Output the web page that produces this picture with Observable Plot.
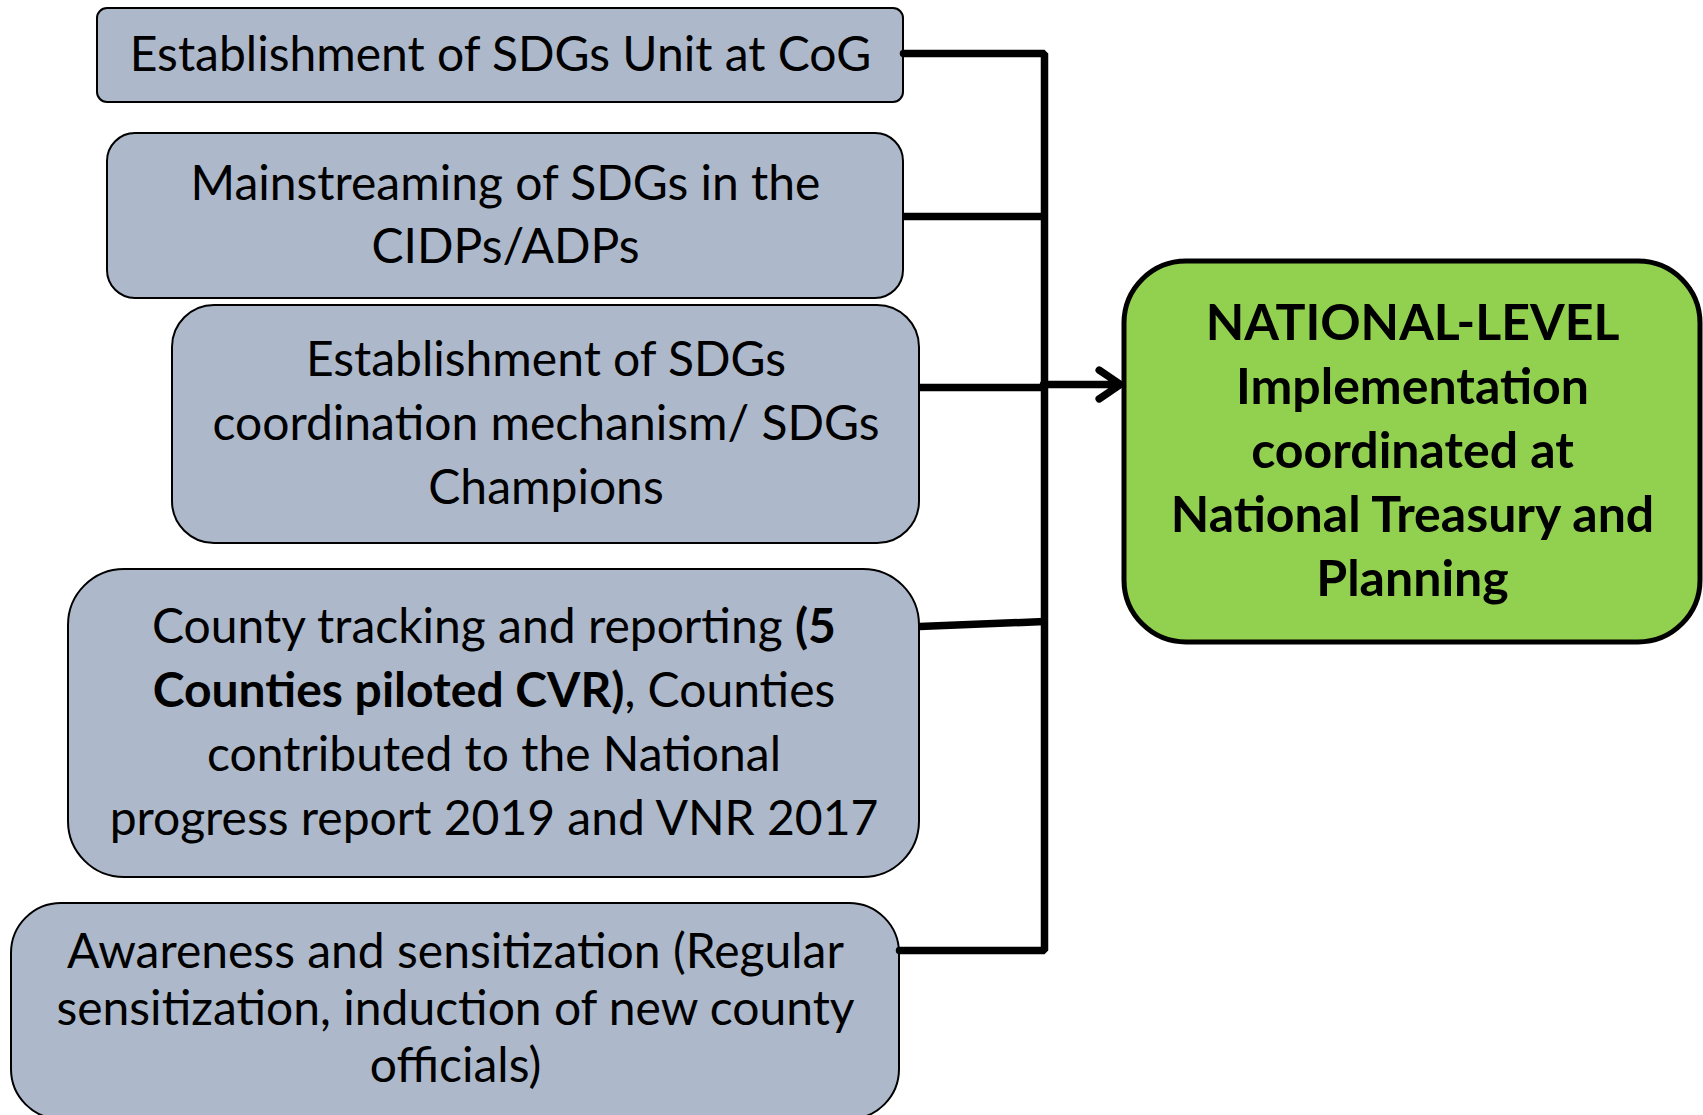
<!DOCTYPE html>
<html><head><meta charset="utf-8">
<script src="https://cdn.jsdelivr.net/npm/d3@7"></script>
<script src="https://cdn.jsdelivr.net/npm/@observablehq/plot@0.6"></script>
<style>html,body{margin:0;padding:0;background:#fff;overflow:hidden}#chart svg{display:block}</style>
</head><body><div id="chart"></div>
<script>
// Content
const boxLabels = [
  ["Establishment of SDGs Unit at CoG"],
  ["Mainstreaming of SDGs in the", "CIDPs/ADPs"],
  ["Establishment of SDGs", "coordination mechanism/ SDGs", "Champions"],
  ["County tracking and reporting **(5**", "**Counties piloted CVR)**, Counties", "contributed to the National", "progress report 2019 and VNR 2017"],
  ["Awareness and sensitization (Regular", "sensitization, induction of new county", "officials)"]
];
const targetLabel = ["NATIONAL-LEVEL", "Implementation", "coordinated at", "National Treasury and", "Planning"];

// Layout (diagram units = canvas pixels)
const boxLeft   = [97, 107, 172, 68, 11];
const boxRight  = [903, 903, 919, 919, 899];
const boxTop    = [8, 133, 305, 569, 903];
const boxBottom = [102, 298, 543, 877, 1119];
const boxRadius = [10, 28, 42, 56, 50];
const boxLineGap = [63, 63, 64, 64, 57];
const targetBox = {x1: 1124, x2: 1700, y1: 261, y2: 642, r: 62, gap: 64};
const busX = 1044;
const connFromY = [53, 216, 387, 626, 950];
const connToY   = [53, 216, 387, 621, 950];
const arrowY = 384;

const W = 1703, H = 1115;
const FONT = "Lato, 'Open Sans', sans-serif";

const boxes = boxLabels.map((lines, i) => ({
  x1: boxLeft[i], x2: boxRight[i], y1: boxTop[i], y2: boxBottom[i], r: boxRadius[i], lines, gap: boxLineGap[i]
}));

function lineRows(b, lines) {
  const cx = (b.x1 + b.x2) / 2, cy = (b.y1 + b.y2) / 2;
  return lines.map((t, j) => ({text: t, x: cx, y: cy + (j - (lines.length - 1) / 2) * b.gap}));
}
// box 5 is cut by the page bottom; its text centres on the visible layout
const grayText = boxes.flatMap((b, i) => lineRows(i === 4 ? {...b, y2: 1116} : b, b.lines));
const greenText = lineRows(targetBox, targetLabel);

// bus path: top connector, vertical bus, bottom connector
const busPath = [
  {x: boxRight[0], y: connFromY[0]},
  {x: busX, y: connToY[0]},
  {x: busX, y: connToY[4]},
  {x: boxRight[4], y: connFromY[4]}
];
const sideLinks = [1, 2, 3].map(i => ({x1: boxRight[i], y1: connFromY[i], x2: busX, y2: connToY[i]}));
const arrowLink = [{x1: busX - 1, y1: arrowY, x2: targetBox.x1 - 4, y2: arrowY}];

const marks = [
  ...boxes.map(b => Plot.rect([b], {x1: "x1", x2: "x2", y1: "y1", y2: "y2", rx: b.r, fill: "#ADB9CA", stroke: "#000", strokeWidth: 2})),
  Plot.rect([targetBox], {x1: "x1", x2: "x2", y1: "y1", y2: "y2", rx: targetBox.r, fill: "#92D050", stroke: "#000", strokeWidth: 5}),
  Plot.line(busPath, {x: "x", y: "y", stroke: "#000", strokeWidth: 7.5, strokeLinejoin: "miter", curve: "linear"}),
  Plot.link(sideLinks, {x1: "x1", y1: "y1", x2: "x2", y2: "y2", stroke: "#000", strokeWidth: 7.5}),
  Plot.arrow(arrowLink, {x1: "x1", y1: "y1", x2: "x2", y2: "y2", bend: 0, headLength: 6, headAngle: 68, stroke: "#000", strokeWidth: 7.5, strokeLinecap: "round", strokeLinejoin: "round", insetStart: 0, insetEnd: 0}),
  Plot.text(grayText, {x: "x", y: "y", text: "text", fontSize: 48, fontFamily: FONT, fill: "#000", lineAnchor: "middle", textAnchor: "middle"}),
  Plot.text(greenText, {x: "x", y: "y", text: "text", fontSize: 50, fontFamily: FONT, fontWeight: "bold", fill: "#000", lineAnchor: "middle", textAnchor: "middle"})
];

const chart = Plot.plot({
  width: W, height: H, margin: 0,
  x: {domain: [0, W], range: [0, W], axis: null},
  y: {domain: [0, H], range: [0, H], axis: null},
  style: {background: "#fff", overflow: "hidden"},
  marks
});

// mixed bold segments marked with ** in the labels
chart.querySelectorAll("text").forEach(t => {
  const s = t.textContent;
  if (!s.includes("**")) return;
  t.textContent = "";
  s.split("**").forEach((part, k) => {
    if (!part) return;
    const ts = document.createElementNS("http://www.w3.org/2000/svg", "tspan");
    ts.textContent = part;
    if (k % 2 === 1) ts.setAttribute("font-weight", "bold");
    t.appendChild(ts);
  });
});
document.getElementById("chart").appendChild(chart);
</script>
</body></html>
